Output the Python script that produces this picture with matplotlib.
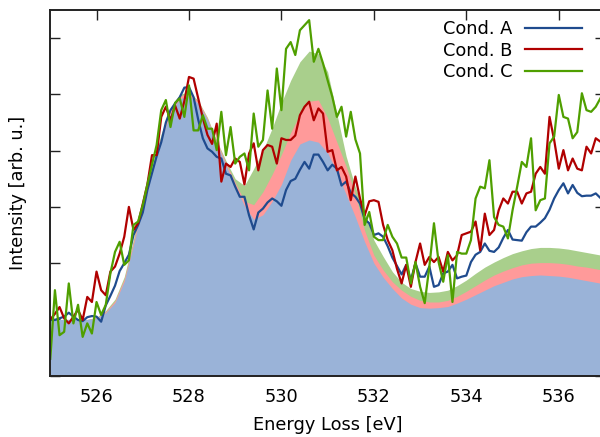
import numpy as np
import matplotlib
matplotlib.use("Agg")
import matplotlib.pyplot as plt

# ---- data -------------------------------------------------------------
energy = np.round(np.linspace(525.0, 536.9, 120), 1)          # measured spectra grid (eV)
model_energy = np.round(np.linspace(525.0, 537.0, 61), 1)     # model curves grid (eV)

cond_a = [0.99, 0.99, 1.02, 1.05, 1.12, 1.05, 0.99, 0.97, 1.04, 1.06,
          1.05, 0.96, 1.25, 1.42, 1.60, 1.86, 2.00, 2.15, 2.50, 2.68,
          2.90, 3.30, 3.60, 3.90, 4.15, 4.50, 4.72, 4.84, 4.95, 5.12,
          5.13, 4.95, 4.55, 4.22, 4.04, 3.98, 3.89, 3.86, 3.59, 3.56,
          3.36, 3.18, 3.18, 2.85, 2.60, 2.90, 2.97, 3.08, 3.15, 3.10,
          3.02, 3.30, 3.46, 3.50, 3.66, 3.80, 3.68, 3.93, 3.93, 3.80,
          3.65, 3.75, 3.68, 3.38, 3.45, 3.25, 3.18, 3.06, 2.78, 2.71,
          2.50, 2.53, 2.47, 2.30, 2.10, 1.95, 1.80, 1.97, 1.70, 2.00,
          1.76, 1.76, 1.94, 1.58, 1.61, 1.82, 1.85, 1.97, 1.73, 1.76,
          1.78, 2.02, 2.15, 2.20, 2.35, 2.22, 2.20, 2.28, 2.45, 2.59,
          2.42, 2.41, 2.40, 2.55, 2.65, 2.65, 2.72, 2.80, 2.95, 3.15,
          3.30, 3.42, 3.24, 3.39, 3.25, 3.19, 3.20, 3.20, 3.24, 3.16]

cond_b = [1.00, 1.10, 1.22, 1.02, 0.93, 1.05, 1.17, 0.99, 1.40, 1.31,
          1.85, 1.52, 1.43, 1.85, 1.94, 2.17, 2.47, 3.00, 2.59, 2.71,
          3.05, 3.40, 3.92, 3.92, 4.60, 4.78, 4.54, 4.80, 4.57, 4.88,
          5.31, 5.28, 4.93, 4.58, 4.28, 4.12, 4.48, 3.45, 3.77, 3.71,
          3.86, 3.80, 3.40, 3.95, 4.13, 3.65, 4.01, 4.10, 4.07, 3.77,
          4.22, 4.19, 4.19, 4.27, 4.63, 4.78, 4.87, 4.54, 4.75, 4.66,
          3.98, 4.01, 3.65, 3.71, 3.54, 3.12, 3.54, 3.15, 2.85, 3.10,
          3.12, 3.09, 2.68, 2.41, 2.23, 1.90, 1.64, 1.97, 1.58, 2.02,
          2.35, 1.97, 2.11, 2.02, 2.11, 1.85, 2.20, 2.05, 2.14, 2.50,
          2.53, 2.56, 2.74, 2.23, 2.88, 2.50, 2.59, 2.94, 3.15, 3.06,
          3.27, 3.27, 3.06, 3.24, 3.27, 3.59, 3.71, 3.59, 4.60, 4.19,
          3.68, 4.01, 3.65, 3.86, 3.68, 3.65, 4.07, 3.95, 4.22, 4.16]

cond_c = [0.30, 1.52, 0.72, 0.78, 1.64, 0.93, 1.26, 0.69, 0.93, 0.75,
          1.31, 1.08, 1.26, 1.82, 2.20, 2.38, 1.97, 2.05, 2.68, 2.74,
          3.03, 3.40, 3.75, 4.10, 4.72, 4.90, 4.42, 4.85, 4.93, 4.60,
          5.16, 4.36, 4.36, 4.63, 4.39, 4.39, 4.01, 4.69, 3.92, 4.42,
          3.77, 3.89, 3.95, 3.65, 4.66, 4.07, 4.19, 5.07, 4.39, 5.46,
          4.72, 5.81, 5.93, 5.70, 6.14, 6.23, 6.32, 5.58, 5.81, 5.55,
          5.25, 4.96, 4.60, 4.78, 4.25, 4.69, 4.20, 3.95, 2.68, 2.91,
          2.47, 2.41, 2.41, 2.68, 2.47, 2.35, 2.10, 2.10, 1.64, 2.02,
          1.58, 1.29, 1.94, 2.71, 2.02, 1.67, 2.14, 1.31, 2.20, 2.17,
          2.17, 2.41, 3.15, 3.36, 3.33, 3.83, 2.82, 2.68, 2.65, 2.44,
          2.94, 3.36, 3.80, 3.71, 4.22, 2.94, 3.12, 3.15, 4.13, 4.25,
          4.99, 4.60, 4.57, 4.22, 4.33, 5.02, 4.72, 4.69, 4.78, 4.93]

model_a = [1.00, 1.00, 1.00, 1.00, 1.00, 1.02, 1.12, 1.30, 1.68, 2.33,
           3.02, 3.62, 4.20, 4.67, 4.92, 4.98, 4.84, 4.55, 4.13, 3.74,
           3.37, 3.02, 2.78, 2.86, 3.10, 3.40, 3.83, 4.12, 4.19, 4.15,
           3.96, 3.62, 3.22, 2.82, 2.38, 2.00, 1.75, 1.55, 1.38, 1.27,
           1.21, 1.20, 1.21, 1.23, 1.29, 1.36, 1.44, 1.52, 1.60, 1.66,
           1.72, 1.76, 1.78, 1.79, 1.78, 1.77, 1.75, 1.72, 1.69, 1.66,
           1.63]

model_b = [1.00, 1.00, 1.00, 1.00, 1.00, 1.03, 1.14, 1.33, 1.72, 2.38,
           3.08, 3.68, 4.26, 4.73, 4.97, 5.02, 4.87, 4.57, 4.16, 3.78,
           3.43, 3.10, 3.04, 3.27, 3.58, 3.93, 4.32, 4.65, 4.88, 4.90,
           4.58, 4.15, 3.72, 3.22, 2.58, 2.14, 1.88, 1.67, 1.52, 1.41,
           1.34, 1.31, 1.31, 1.34, 1.41, 1.50, 1.60, 1.70, 1.79, 1.86,
           1.92, 1.97, 2.00, 2.01, 2.01, 2.00, 1.98, 1.95, 1.93, 1.90,
           1.87]

model_c = [1.00, 1.00, 1.00, 1.00, 1.00, 1.04, 1.16, 1.36, 1.76, 2.43,
           3.13, 3.73, 4.30, 4.76, 5.00, 5.05, 4.89, 4.59, 4.18, 3.82,
           3.50, 3.38, 3.68, 4.00, 4.40, 4.85, 5.25, 5.58, 5.77, 5.72,
           5.40, 4.65, 3.90, 3.35, 2.92, 2.41, 2.12, 1.85, 1.66, 1.55,
           1.50, 1.48, 1.49, 1.52, 1.60, 1.70, 1.82, 1.93, 2.02, 2.10,
           2.17, 2.22, 2.26, 2.28, 2.28, 2.27, 2.25, 2.22, 2.19, 2.16,
           2.13]

labels = ["Cond. A", "Cond. B", "Cond. C"]
line_colors = ["#1f4b8e", "#b00000", "#4f9f00"]
fill_colors = ["#9ab3d8", "#ff9a9a", "#a9cf8c"]
x_ticks = [526, 528, 530, 532, 534, 536]

# ---- figure ------------------------------------------------------------
plt.rcParams["font.family"] = ["DejaVu Sans"]
FS = 12.8
fig = plt.figure(figsize=(6.0, 4.37), dpi=100)
ax = fig.add_axes([50.3 / 600, 1 - 375.7 / 437, (605 - 50.3) / 600, (375.7 - 10) / 437])

models = [model_a, model_b, model_c]
for m, c, z in zip(models[::-1], fill_colors[::-1], [3.0, 3.1, 3.2]):
    ax.fill_between(model_energy, 0, m, color=c, lw=0, zorder=z)

series = [cond_a, cond_b, cond_c]
handles = []
for s, c, lab in zip(series, line_colors, labels):
    h, = ax.plot(energy, s, color=c, lw=1.6, label=lab, zorder=4)
    handles.append(h)

ax.set_xlim(525.0, 537.0)
ax.set_ylim(0, 6.5)
ax.set_xticks(x_ticks)
ax.set_xticklabels([str(t) for t in x_ticks])
ax.set_yticks(range(0, 7))
ax.set_yticklabels([])
ax.tick_params(axis="both", direction="in", length=7, width=1.0, color="#222222",
               top=True, right=True, labelsize=FS, pad=9)
for sp in ax.spines.values():
    sp.set_linewidth(1.4)
    sp.set_color("#222222")
    sp.set_zorder(5)

ax.set_xlabel("Energy Loss [eV]", fontsize=FS, labelpad=7)
ax.set_ylabel("Intensity [arb. u.]", fontsize=FS, labelpad=8)

leg = fig.legend(handles=handles, labels=labels, loc="upper right",
                 bbox_to_anchor=(582 / 600, 1 - 20 / 437), frameon=False,
                 markerfirst=False, fontsize=FS, handlelength=3.2,
                 handletextpad=0.7, labelspacing=0.2, borderpad=0,
                 borderaxespad=0)

fig.savefig("out.png", dpi=100)
